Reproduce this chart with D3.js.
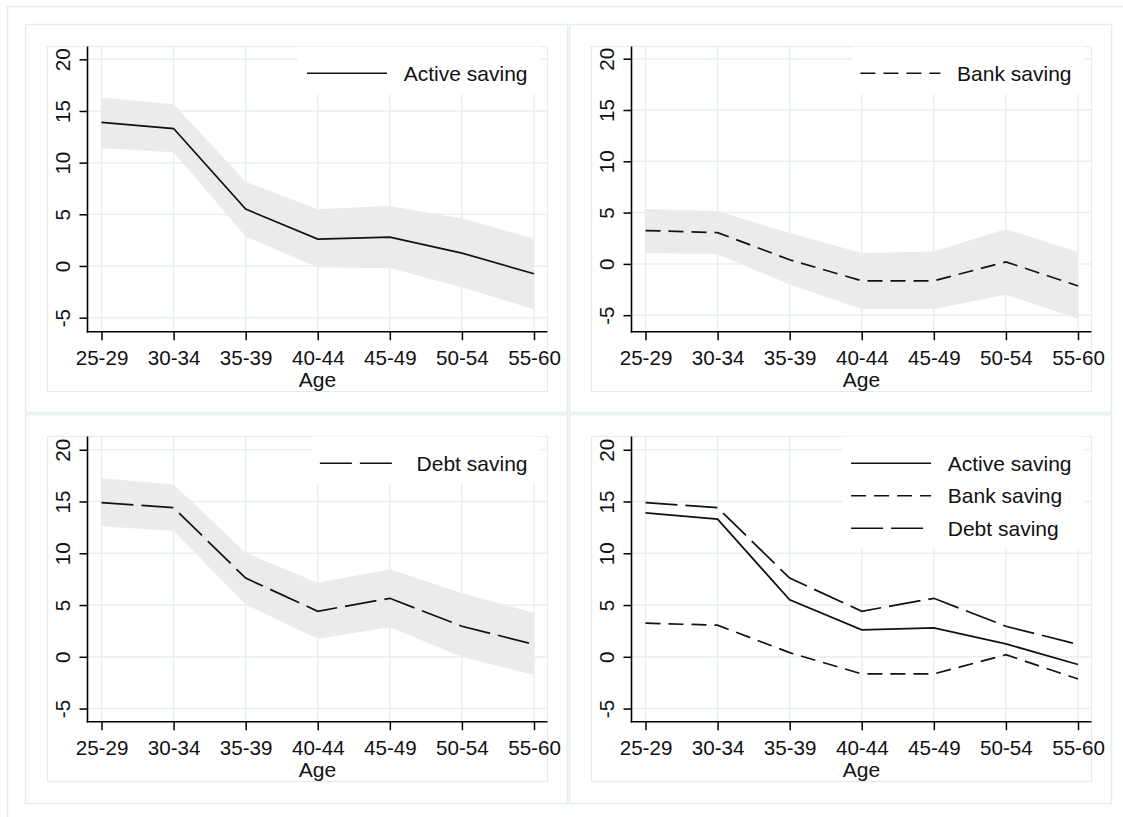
<!DOCTYPE html>
<html>
<head>
<meta charset="utf-8">
<script src="https://cdn.jsdelivr.net/npm/d3@7"></script>
<style>
  html, body { margin: 0; padding: 0; background: #fff; }
  svg { display: block; font-family: "Liberation Sans", Arial, sans-serif; }
</style>
</head>
<body>
<svg id="chart" width="1123" height="817"></svg>
<script>
// Age groups on the horizontal axis
const ageGroups = ["25-29", "30-34", "35-39", "40-44", "45-49", "50-54", "55-60"];
const yTicks = [-5, 0, 5, 10, 15, 20];

// Point estimates and 95% confidence bounds for each saving measure
const activeSaving = [13.9, 13.3, 5.5, 2.6, 2.8, 1.25, -0.75];
const activeLower  = [11.4, 11.0, 2.85, -0.15, -0.2, -2.05, -4.2];
const activeUpper  = [16.3, 15.65, 8.15, 5.5, 5.8, 4.6, 2.65];

const bankSaving = [3.25, 3.05, 0.4, -1.65, -1.65, 0.2, -2.15];
const bankLower  = [1.05, 0.95, -2.0, -4.4, -4.4, -3.0, -5.35];
const bankUpper  = [5.35, 5.15, 3.0, 1.05, 1.2, 3.4, 1.15];

const debtSaving = [14.9, 14.4, 7.6, 4.4, 5.65, 2.95, 1.2];
const debtLower  = [12.6, 12.15, 5.05, 1.75, 2.85, 0.0, -1.75];
const debtUpper  = [17.25, 16.65, 10.05, 7.15, 8.45, 6.15, 4.25];

const seriesNames = ["Active saving", "Bank saving", "Debt saving"];
const dashPatterns = [null, "15,8", "32,8"];

const svg = d3.select("#chart");
const gridColor = "#e7eff1";
const frameColor = "#e3ecef";
const bandColor = "#ebebeb";

// outer border around the whole figure
svg.append("rect")
  .attr("x", 7.5).attr("y", 6.5).attr("width", 1130).attr("height", 830)
  .attr("fill", "none").attr("stroke", frameColor).attr("stroke-width", 1.5);

const series = [
  { name: seriesNames[0], dash: dashPatterns[0], est: activeSaving, lo: activeLower, hi: activeUpper },
  { name: seriesNames[1], dash: dashPatterns[1], est: bankSaving,   lo: bankLower,   hi: bankUpper },
  { name: seriesNames[2], dash: dashPatterns[2], est: debtSaving,   lo: debtLower,   hi: debtUpper }
];

const panels = [
  { x: 25,  y: 24,  h: 389, yDomain: [-6.36, 21.24], items: [0], band: true },
  { x: 569, y: 24,  h: 389, yDomain: [-6.61, 21.19], items: [1], band: true },
  { x: 25,  y: 414, h: 390, yDomain: [-6.27, 21.28], items: [2], band: true },
  { x: 569, y: 414, h: 390, yDomain: [-6.27, 21.28], items: [0, 1, 2], band: false }
];

panels.forEach(p => {
  const g = svg.append("g");
  const W = 543;

  // panel frame
  g.append("rect")
    .attr("x", p.x + 0.5).attr("y", p.y + 0.5).attr("width", W - 1).attr("height", p.h - 1)
    .attr("fill", "#fff").attr("stroke", frameColor).attr("stroke-width", 1.5);

  const plotLeft = p.x + 22.5, plotRight = p.x + 522.5;
  const plotTop = p.y + 22.5, plotBottom = p.y + 367.5;
  const axisX = p.x + 62.5, axisY = p.y + 307.7;

  // plot region border
  g.append("rect")
    .attr("x", plotLeft).attr("y", plotTop)
    .attr("width", plotRight - plotLeft).attr("height", plotBottom - plotTop)
    .attr("fill", "none").attr("stroke", frameColor).attr("stroke-width", 1.2);

  const x = d3.scalePoint().domain(ageGroups).range([axisX + 14, plotRight - 13.5]);
  const y = d3.scaleLinear().domain(p.yDomain).range([axisY, plotTop]);

  // gridlines
  g.append("g").selectAll("line").data(yTicks).join("line")
    .attr("x1", axisX).attr("x2", plotRight)
    .attr("y1", d => y(d)).attr("y2", d => y(d))
    .attr("stroke", gridColor).attr("stroke-width", 1.5);
  g.append("g").selectAll("line").data(ageGroups).join("line")
    .attr("x1", d => x(d)).attr("x2", d => x(d))
    .attr("y1", plotTop).attr("y2", axisY)
    .attr("stroke", gridColor).attr("stroke-width", 1.5);

  // confidence bands
  if (p.band) {
    p.items.forEach(i => {
      const s = series[i];
      const area = d3.area()
        .x((d, k) => x(ageGroups[k]))
        .y0((d, k) => y(s.lo[k]))
        .y1((d, k) => y(s.hi[k]));
      g.append("path").attr("d", area(s.est)).attr("fill", bandColor);
    });
  }

  // legend (white box over the grid, right-aligned)
  const leg = g.append("g");
  const rowY0 = p.y + 49.3, rowStep = 32.5;
  const texts = p.items.map((i, r) =>
    leg.append("text")
      .attr("y", rowY0 + r * rowStep + 7.3)
      .attr("font-size", "21px").attr("fill", "#111")
      .text(series[i].name));
  const maxW = d3.max(texts, t => t.node().getComputedTextLength());
  const textX = p.x + 502.5 - maxW;
  const keyX1 = textX - 16.7, keyX0 = keyX1 - 80;
  leg.insert("rect", ":first-child")
    .attr("x", keyX0 - 9).attr("y", plotTop)
    .attr("width", p.x + 516 - (keyX0 - 9))
    .attr("height", rowY0 + (p.items.length - 1) * rowStep + 21 - plotTop)
    .attr("fill", "#fff");
  texts.forEach(t => t.attr("x", textX));
  p.items.forEach((i, r) => {
    leg.append("line")
      .attr("x1", keyX0).attr("x2", keyX1)
      .attr("y1", rowY0 + r * rowStep).attr("y2", rowY0 + r * rowStep)
      .attr("stroke", "#111").attr("stroke-width", 1.6)
      .attr("stroke-dasharray", series[i].dash);
  });

  // series lines
  p.items.forEach(i => {
    const s = series[i];
    const line = d3.line().x((d, k) => x(ageGroups[k])).y(d => y(d));
    g.append("path").attr("d", line(s.est))
      .attr("fill", "none").attr("stroke", "#111").attr("stroke-width", 1.7)
      .attr("stroke-dasharray", s.dash);
  });

  // x axis
  const xAxis = g.append("g").attr("transform", `translate(0,${axisY})`)
    .call(d3.axisBottom(x).tickSize(8.5).tickPadding(0).tickSizeOuter(0));
  xAxis.select(".domain").remove();
  xAxis.append("line").attr("x1", axisX - 0.75).attr("x2", plotRight).attr("y1", 0).attr("y2", 0)
    .attr("stroke", "#000").attr("stroke-width", 1.6);
  xAxis.selectAll(".tick line").attr("stroke", "#000").attr("stroke-width", 1.5);
  xAxis.selectAll(".tick text")
    .attr("y", 33).attr("dy", null)
    .attr("font-size", "20.6px").attr("font-family", "Liberation Sans, Arial, sans-serif")
    .attr("fill", "#111");

  // y axis with rotated tick labels (plain hyphen for negatives)
  const yAxis = g.append("g").attr("transform", `translate(${axisX},0)`)
    .call(d3.axisLeft(y).tickValues(yTicks).tickSize(8).tickSizeOuter(0).tickFormat(d => String(d)));
  yAxis.select(".domain").remove();
  yAxis.append("line").attr("x1", 0).attr("x2", 0).attr("y1", plotTop).attr("y2", axisY + 0.75)
    .attr("stroke", "#000").attr("stroke-width", 1.6);
  yAxis.selectAll(".tick line").attr("stroke", "#000").attr("stroke-width", 1.5);
  yAxis.selectAll(".tick text")
    .attr("x", null).attr("dy", null)
    .attr("text-anchor", "middle")
    .attr("transform", "translate(-18,0) rotate(-90)")
    .attr("font-size", "20.6px").attr("font-family", "Liberation Sans, Arial, sans-serif")
    .attr("fill", "#111");

  // axis title
  g.append("text")
    .attr("x", (axisX + plotRight) / 2).attr("y", axisY + 55)
    .attr("text-anchor", "middle").attr("font-size", "21px").attr("fill", "#111")
    .text("Age");
});
</script>
</body>
</html>
